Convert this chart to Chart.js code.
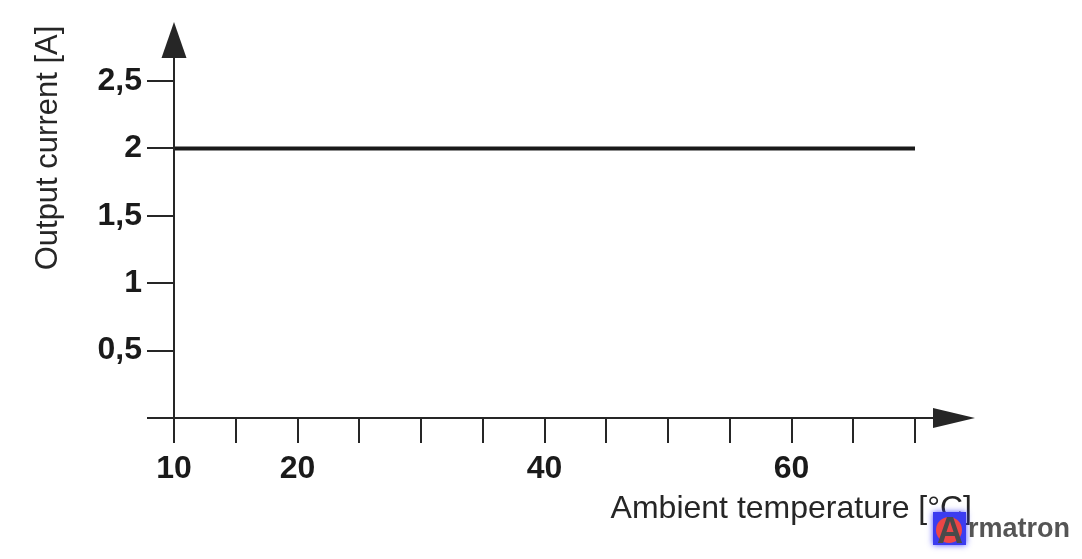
<!DOCTYPE html>
<html>
<head>
<meta charset="utf-8">
<title>Output current vs ambient temperature</title>
<script src="https://cdn.jsdelivr.net/npm/chart.js@4/dist/chart.umd.min.js"></script>
<style>
  body { margin: 0; background: #fff; }
  canvas { display: block; }
</style>
</head>
<body>
<canvas id="derating" width="1082" height="559"></canvas>
<script>
// 1. DADES
// Corba de derating: corrent de sortida constant entre 10 i 70 °C
const tempX = [10, 70];
const currentA = [2, 2];
const xLabelsShown = [10, 20, 40, 60];   // només aquestes marques porten text
const xTitle = 'Ambient temperature [°C]';
const yTitle = 'Output current [A]';

const INK = '#262626';
const FONT = '"Liberation Sans", Arial, Helvetica, sans-serif';

// 2. PLUGIN PER EIXOS AMB FLETXA, TÍTOLS I MARCA D'AIGUA
const axisArrows = {
    id: 'axisArrows',
    afterDraw(chart) {
        const { ctx, chartArea: a } = chart;
        ctx.save();
        ctx.strokeStyle = INK;
        ctx.fillStyle = INK;
        ctx.lineWidth = 2;

        // eix Y + fletxa
        ctx.beginPath();
        ctx.moveTo(a.left, a.bottom);
        ctx.lineTo(a.left, a.top - 23);
        ctx.stroke();
        ctx.beginPath();
        ctx.moveTo(a.left - 12.5, a.top - 23);
        ctx.lineTo(a.left, a.top - 59);
        ctx.lineTo(a.left + 12.5, a.top - 23);
        ctx.closePath();
        ctx.fill();

        // eix X + fletxa
        ctx.beginPath();
        ctx.moveTo(a.left, a.bottom);
        ctx.lineTo(a.right + 18, a.bottom);
        ctx.stroke();
        ctx.beginPath();
        ctx.moveTo(a.right + 18, a.bottom - 10);
        ctx.lineTo(a.right + 60, a.bottom);
        ctx.lineTo(a.right + 18, a.bottom + 10);
        ctx.closePath();
        ctx.fill();

        // títols
        ctx.font = '32px ' + FONT;
        ctx.textAlign = 'right';
        ctx.textBaseline = 'alphabetic';
        ctx.fillText(xTitle, 972, 518);

        ctx.save();
        ctx.font = '31px ' + FONT;
        ctx.translate(57, 148);
        ctx.rotate(-Math.PI / 2);
        ctx.textAlign = 'center';
        ctx.fillText(yTitle, 0, 0);
        ctx.restore();

        // marca d'aigua
        ctx.save();
        ctx.shadowColor = 'rgba(60,60,255,0.9)';
        ctx.shadowBlur = 6;
        ctx.fillStyle = '#3c3cf0';
        ctx.fillRect(933, 512, 33, 33);
        ctx.restore();
        ctx.fillStyle = '#ee4646';
        ctx.beginPath();
        ctx.arc(949, 530, 13, 0, Math.PI * 2);
        ctx.fill();
        ctx.fillStyle = '#4a4a4a';
        ctx.font = 'bold 36px ' + FONT;
        ctx.textAlign = 'center';
        ctx.fillText('A', 950, 543);
        ctx.fillStyle = '#555';
        ctx.font = 'bold 27px ' + FONT;
        ctx.textAlign = 'left';
        ctx.fillText('rmatron', 968, 537);
        ctx.restore();
    }
};

// 3. GRÀFIC
const ctx = document.getElementById('derating').getContext('2d');
new Chart(ctx, {
    type: 'line',
    data: {
        datasets: [{
            data: tempX.map((t, i) => ({ x: t, y: currentA[i] })),
            borderColor: '#1a1a1a',
            borderWidth: 4,
            pointRadius: 0,
            fill: false,
            tension: 0
        }]
    },
    options: {
        responsive: false,
        animation: false,
        layout: { padding: { left: 0, top: 81, right: 167, bottom: 81 } },
        plugins: { legend: { display: false }, tooltip: { enabled: false } },
        scales: {
            x: {
                type: 'linear',
                min: 10,
                max: 70,
                afterFit: s => { s.height = 60; },
                border: { display: false },
                grid: { drawOnChartArea: false, drawTicks: true, tickLength: 25, color: INK, lineWidth: 2 },
                ticks: {
                    stepSize: 5,
                    autoSkip: false,
                    maxRotation: 0,
                    padding: 7,
                    color: '#1a1a1a',
                    font: { family: FONT, size: 32, weight: 'bold' },
                    callback: v => xLabelsShown.includes(v) ? String(v) : ''
                }
            },
            y: {
                min: 0,
                max: 2.5,
                afterFit: s => { s.width = 174; },
                border: { display: false },
                grid: { drawOnChartArea: false, drawTicks: true, tickLength: 27, color: INK, lineWidth: 2 },
                ticks: {
                    stepSize: 0.5,
                    padding: 5,
                    color: '#1a1a1a',
                    font: { family: FONT, size: 32, weight: 'bold' },
                    callback: v => v === 0 ? '' : String(v).replace('.', ',')
                }
            }
        }
    },
    plugins: [axisArrows]
});
</script>
</body>
</html>
